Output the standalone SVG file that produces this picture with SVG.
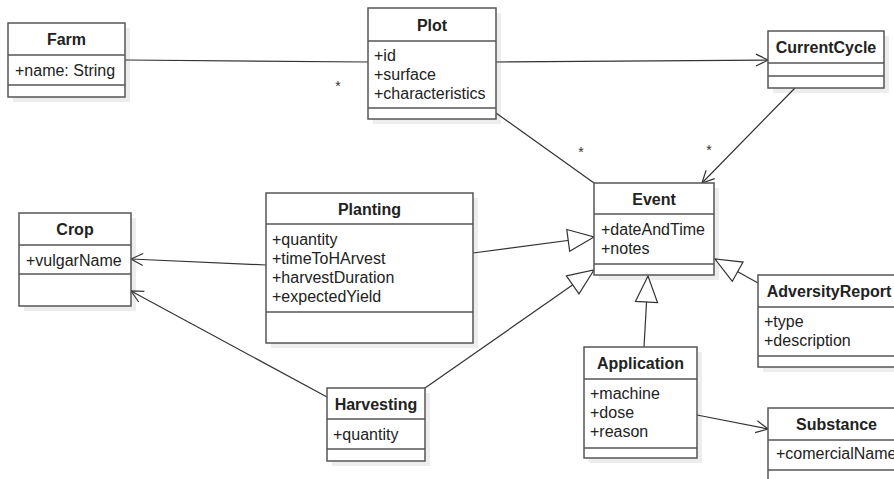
<svg xmlns="http://www.w3.org/2000/svg" width="894" height="479" viewBox="0 0 894 479">
<defs>
<style>
.box{fill:#fff;stroke:#555;stroke-width:1.5}
.sh{fill:#ededed;stroke:none}
.div{stroke:#555;stroke-width:1.5}
.t{font-family:"Liberation Sans",Arial,sans-serif;font-size:16px;font-weight:bold;fill:#222;text-anchor:middle}
.a{font-family:"Liberation Sans",Arial,sans-serif;font-size:16px;fill:#222}
.m{font-family:"Liberation Sans",Arial,sans-serif;font-size:14px;fill:#333;text-anchor:middle}
.c{fill:none;stroke:#333;stroke-width:1.2}
</style>
<marker id="open" markerUnits="userSpaceOnUse" markerWidth="16" markerHeight="14" refX="13" refY="6" orient="auto" overflow="visible">
<path d="M1,0 L13,6 L1,12" fill="none" stroke="#333" stroke-width="1.2"/>
</marker>
<marker id="tri" markerUnits="userSpaceOnUse" markerWidth="28" markerHeight="24" refX="26" refY="11" orient="auto" overflow="visible">
<path d="M0,0 L26,11 L0,22 Z" fill="#fff" stroke="#333" stroke-width="1.2"/>
</marker>
</defs>
<rect width="894" height="479" fill="#fff"/>

<g id="shadows">
<rect class="sh" x="13" y="28" width="117" height="74"/>
<rect class="sh" x="373" y="13" width="128" height="111"/>
<rect class="sh" x="773" y="36" width="116" height="57"/>
<rect class="sh" x="599" y="188" width="120" height="92"/>
<rect class="sh" x="24" y="218" width="112" height="93"/>
<rect class="sh" x="271" y="198" width="207" height="150"/>
<rect class="sh" x="332" y="393" width="98" height="73"/>
<rect class="sh" x="589" y="352" width="113" height="111"/>
<rect class="sh" x="763" y="280" width="142" height="92"/>
<rect class="sh" x="773" y="413" width="137" height="82"/>
</g>

<g id="connectors">
<line class="c" x1="125" y1="60" x2="368" y2="62"/>
<text class="m" x="338" y="91">*</text>
<line class="c" x1="496" y1="62" x2="768" y2="60" marker-end="url(#open)"/>
<line class="c" x1="496" y1="113" x2="594" y2="183"/>
<text class="m" x="581" y="157">*</text>
<line class="c" x1="795" y1="88" x2="702" y2="183" marker-end="url(#open)"/>
<text class="m" x="709" y="155">*</text>
<line class="c" x1="266" y1="265" x2="131" y2="259" marker-end="url(#open)"/>
<line class="c" x1="327" y1="397" x2="131" y2="291" marker-end="url(#open)"/>
<line class="c" x1="473" y1="253" x2="594" y2="237" marker-end="url(#tri)"/>
<line class="c" x1="425" y1="388" x2="594" y2="270" marker-end="url(#tri)"/>
<line class="c" x1="644" y1="347" x2="648" y2="276" marker-end="url(#tri)"/>
<line class="c" x1="758" y1="283" x2="715" y2="259" marker-end="url(#tri)"/>
<line class="c" x1="697" y1="415" x2="768" y2="429" marker-end="url(#open)"/>
</g>

<g id="Farm">
<rect class="box" x="8" y="23" width="117" height="74"/>
<line class="div" x1="8" y1="55" x2="125" y2="55"/>
<line class="div" x1="8" y1="85" x2="125" y2="85"/>
<text class="t" x="66.5" y="45">Farm</text>
<text class="a" x="15" y="76">+name: String</text>
</g>

<g id="Plot">
<rect class="box" x="368" y="8" width="128" height="111"/>
<line class="div" x1="368" y1="41" x2="496" y2="41"/>
<line class="div" x1="368" y1="108" x2="496" y2="108"/>
<text class="t" x="432" y="30.5">Plot</text>
<text class="a" x="374" y="61">+id</text>
<text class="a" x="374" y="80">+surface</text>
<text class="a" x="374" y="99">+characteristics</text>
</g>

<g id="CurrentCycle">
<rect class="box" x="768" y="31" width="116" height="57"/>
<line class="div" x1="768" y1="63" x2="884" y2="63"/>
<line class="div" x1="768" y1="76" x2="884" y2="76"/>
<text class="t" x="826" y="53">CurrentCycle</text>
</g>

<g id="Event">
<rect class="box" x="594" y="183" width="120" height="92"/>
<line class="div" x1="594" y1="214" x2="714" y2="214"/>
<line class="div" x1="594" y1="264" x2="714" y2="264"/>
<text class="t" x="654" y="204.5">Event</text>
<text class="a" x="601" y="235">+dateAndTime</text>
<text class="a" x="601" y="254">+notes</text>
</g>

<g id="Crop">
<rect class="box" x="19" y="213" width="112" height="93"/>
<line class="div" x1="19" y1="245" x2="131" y2="245"/>
<line class="div" x1="19" y1="274" x2="131" y2="274"/>
<text class="t" x="75" y="235">Crop</text>
<text class="a" x="26" y="266">+vulgarName</text>
</g>

<g id="Planting">
<rect class="box" x="266" y="193" width="207" height="150"/>
<line class="div" x1="266" y1="224" x2="473" y2="224"/>
<line class="div" x1="266" y1="312" x2="473" y2="312"/>
<text class="t" x="369.5" y="214.5">Planting</text>
<text class="a" x="272" y="245">+quantity</text>
<text class="a" x="272" y="264">+timeToHArvest</text>
<text class="a" x="272" y="283">+harvestDuration</text>
<text class="a" x="272" y="302">+expectedYield</text>
</g>

<g id="Harvesting">
<rect class="box" x="327" y="388" width="98" height="73"/>
<line class="div" x1="327" y1="419" x2="425" y2="419"/>
<line class="div" x1="327" y1="449" x2="425" y2="449"/>
<text class="t" x="376" y="409.5">Harvesting</text>
<text class="a" x="333" y="440">+quantity</text>
</g>

<g id="Application">
<rect class="box" x="584" y="347" width="113" height="111"/>
<line class="div" x1="584" y1="379" x2="697" y2="379"/>
<line class="div" x1="584" y1="448" x2="697" y2="448"/>
<text class="t" x="640.5" y="369">Application</text>
<text class="a" x="590" y="399">+machine</text>
<text class="a" x="590" y="418">+dose</text>
<text class="a" x="590" y="437">+reason</text>
</g>

<g id="AdversityReport">
<rect class="box" x="758" y="275" width="142" height="92"/>
<line class="div" x1="758" y1="307" x2="900" y2="307"/>
<line class="div" x1="758" y1="356" x2="900" y2="356"/>
<text class="t" x="829" y="297">AdversityReport</text>
<text class="a" x="764" y="327">+type</text>
<text class="a" x="764" y="346">+description</text>
</g>

<g id="Substance">
<rect class="box" x="768" y="408" width="137" height="82"/>
<line class="div" x1="768" y1="440" x2="905" y2="440"/>
<line class="div" x1="768" y1="470" x2="905" y2="470"/>
<text class="t" x="836.5" y="430">Substance</text>
<text class="a" x="776" y="459">+comercialName</text>
</g>
</svg>
